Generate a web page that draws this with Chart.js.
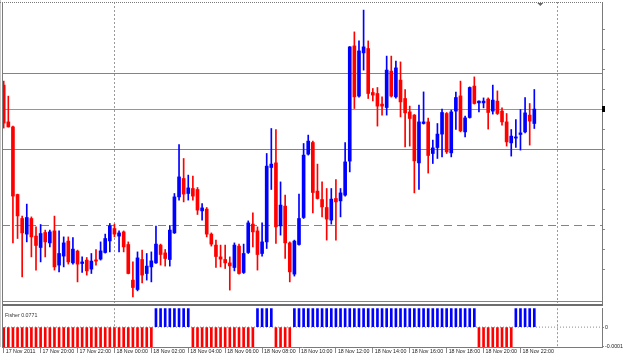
<!DOCTYPE html>
<html>
<head>
<meta charset="utf-8">
<script src="https://cdn.jsdelivr.net/npm/chart.js@4.4.0/dist/chart.umd.min.js"></script>
<style>
  html, body { margin: 0; padding: 0; background: #fff; }
  #wrap { position: relative; width: 625px; height: 358px; overflow: hidden; background: #fff; }
  canvas { position: absolute; left: 0; }
  #main { top: 0; }
  #sub { top: 304px; }
</style>
</head>
<body>
<div id="wrap">
  <canvas id="main" width="625" height="304"></canvas>
  <canvas id="sub" width="625" height="54"></canvas>
</div>
<script>
// M15 bars, 17 Nov 18:00 -> 18 Nov 22:45
const opens = [
  1.35122, 1.34938, 1.34913, 1.34575, 1.34455, 1.34377, 1.34455, 1.34367, 1.34310, 1.34385,
  1.34333, 1.34393, 1.34222, 1.34267, 1.34342, 1.34233, 1.34292, 1.34230, 1.34247, 1.34202,
  1.34248, 1.34252, 1.34285, 1.34343, 1.34405, 1.34367, 1.34388, 1.34325, 1.34147, 1.34100,
  1.34250, 1.34180, 1.34213, 1.34233, 1.34322, 1.34283, 1.34250, 1.34383, 1.34563, 1.34655,
  1.34580, 1.34605, 1.34600, 1.34493, 1.34502, 1.34377, 1.34322, 1.34263, 1.34250, 1.34233,
  1.34210, 1.34317, 1.34185, 1.34285, 1.34427, 1.34393, 1.34280, 1.34338, 1.34710, 1.34733,
  1.34418, 1.34517, 1.34333, 1.34177, 1.34325, 1.34460, 1.34777, 1.34835, 1.34592, 1.34550,
  1.34510, 1.34447, 1.34555, 1.34543, 1.34572, 1.34742, 1.35318, 1.35067, 1.35283, 1.35305,
  1.35085, 1.35080, 1.35027, 1.35010, 1.35192, 1.35063, 1.35147, 1.35055, 1.34988, 1.34972,
  1.34733, 1.34930, 1.34938, 1.34780, 1.34810, 1.34877, 1.34980, 1.34783, 1.34992, 1.35068,
  1.34888, 1.34960, 1.35117, 1.35033, 1.35033, 1.35052, 1.34992, 1.35042, 1.34992, 1.34938,
  1.34833, 1.34857, 1.34875, 1.34888, 1.34972, 1.34930
];
const highs = [
  1.35142, 1.35067, 1.34917, 1.34577, 1.34467, 1.34527, 1.34463, 1.34413, 1.34425, 1.34397,
  1.34397, 1.34467, 1.34393, 1.34363, 1.34363, 1.34360, 1.34297, 1.34263, 1.34260, 1.34280,
  1.34300, 1.34338, 1.34377, 1.34430, 1.34427, 1.34393, 1.34393, 1.34338, 1.34238, 1.34288,
  1.34297, 1.34280, 1.34288, 1.34417, 1.34327, 1.34300, 1.34420, 1.34580, 1.34825, 1.34755,
  1.34672, 1.34667, 1.34610, 1.34530, 1.34510, 1.34383, 1.34347, 1.34322, 1.34322, 1.34263,
  1.34333, 1.34327, 1.34327, 1.34443, 1.34483, 1.34413, 1.34433, 1.34780, 1.34905, 1.34900,
  1.34638, 1.34572, 1.34338, 1.34347, 1.34577, 1.34830, 1.34872, 1.34842, 1.34727, 1.34638,
  1.34605, 1.34605, 1.34650, 1.34605, 1.34835, 1.35315, 1.35388, 1.35343, 1.35497, 1.35343,
  1.35105, 1.35110, 1.35063, 1.35267, 1.35267, 1.35242, 1.35238, 1.35100, 1.35017, 1.34975,
  1.35022, 1.35088, 1.34957, 1.34847, 1.34930, 1.35002, 1.34985, 1.34997, 1.35087, 1.35142,
  1.34967, 1.35113, 1.35163, 1.35043, 1.35058, 1.35058, 1.35122, 1.35093, 1.35008, 1.34980,
  1.34900, 1.34950, 1.35000, 1.35060, 1.35030, 1.35100
];
const lows = [
  1.34907, 1.34912, 1.34333, 1.34355, 1.34163, 1.34338, 1.34263, 1.34197, 1.34238, 1.34263,
  1.34313, 1.34197, 1.34188, 1.34213, 1.34227, 1.34227, 1.34138, 1.34185, 1.34172, 1.34180,
  1.34222, 1.34247, 1.34282, 1.34288, 1.34363, 1.34288, 1.34288, 1.34178, 1.34063, 1.34093,
  1.34133, 1.34147, 1.34138, 1.34230, 1.34222, 1.34217, 1.34217, 1.34380, 1.34547, 1.34538,
  1.34547, 1.34547, 1.34475, 1.34447, 1.34363, 1.34317, 1.34210, 1.34213, 1.34205, 1.34097,
  1.34193, 1.34177, 1.34180, 1.34280, 1.34313, 1.34197, 1.34267, 1.34305, 1.34600, 1.34330,
  1.34372, 1.34255, 1.34138, 1.34167, 1.34322, 1.34455, 1.34772, 1.34483, 1.34552, 1.34463,
  1.34347, 1.34427, 1.34347, 1.34463, 1.34567, 1.34688, 1.35005, 1.35062, 1.35197, 1.35055,
  1.35043, 1.34917, 1.34972, 1.34972, 1.35062, 1.35057, 1.34963, 1.34813, 1.34817, 1.34583,
  1.34600, 1.34927, 1.34682, 1.34730, 1.34755, 1.34763, 1.34780, 1.34763, 1.34900, 1.34888,
  1.34863, 1.34957, 1.35027, 1.34988, 1.35008, 1.34902, 1.34977, 1.34975, 1.34922, 1.34817,
  1.34767, 1.34810, 1.34797, 1.34883, 1.34822, 1.34905
];
const closes = [
  1.34932, 1.34913, 1.34567, 1.34468, 1.34383, 1.34460, 1.34363, 1.34320, 1.34380, 1.34338,
  1.34388, 1.34213, 1.34280, 1.34333, 1.34238, 1.34302, 1.34227, 1.34238, 1.34193, 1.34242,
  1.34242, 1.34293, 1.34355, 1.34418, 1.34377, 1.34383, 1.34313, 1.34180, 1.34110, 1.34258,
  1.34172, 1.34217, 1.34243, 1.34327, 1.34275, 1.34255, 1.34397, 1.34563, 1.34663, 1.34577,
  1.34608, 1.34567, 1.34497, 1.34508, 1.34377, 1.34327, 1.34265, 1.34252, 1.34233, 1.34218,
  1.34322, 1.34180, 1.34280, 1.34433, 1.34388, 1.34275, 1.34338, 1.34717, 1.34727, 1.34413,
  1.34522, 1.34333, 1.34188, 1.34342, 1.34455, 1.34772, 1.34842, 1.34585, 1.34555, 1.34513,
  1.34452, 1.34552, 1.34538, 1.34583, 1.34738, 1.35313, 1.35063, 1.35293, 1.35313, 1.35080,
  1.35072, 1.35017, 1.35017, 1.35197, 1.35067, 1.35208, 1.35038, 1.34983, 1.34955, 1.34743,
  1.34938, 1.34938, 1.34770, 1.34808, 1.34877, 1.34985, 1.34788, 1.34988, 1.35060, 1.34893,
  1.34958, 1.35110, 1.35030, 1.35042, 1.35042, 1.34985, 1.35047, 1.34980, 1.34938, 1.34838,
  1.34867, 1.34863, 1.34883, 1.34983, 1.34942, 1.35002
];

// Fisher histogram (the subwindow scale clips every bar)
const fisher = [
  -1.52, -1.68, -1.85, -2.01, -2.12, -2.05, -1.98, -1.93, -1.87, -1.80,
  -1.74, -1.76, -1.71, -1.62, -1.58, -1.53, -1.55, -1.49, -1.46, -1.38,
  -1.27, -1.13, -0.98, -0.84, -0.77, -0.71, -0.69, -0.74, -0.81, -0.63,
  -0.55, -0.41, -0.22, 0.08, 0.29, 0.41, 0.56, 0.78, 1.02, 1.11,
  1.05, -0.03, -0.21, -0.39, -0.58, -0.77, -0.93, -1.08, -1.19, -1.14,
  -1.02, -0.91, -0.72, -0.49, -0.26, 0.05, 0.18, 0.47, 0.66, -0.04,
  -0.12, -0.23, -0.15, 0.06, 0.21, 0.48, 0.79, 0.92, 0.97, 0.95,
  0.91, 0.88, 0.87, 0.95, 1.21, 1.48, 1.72, 1.95, 2.03, 1.96,
  1.88, 1.79, 1.74, 1.81, 1.83, 1.86, 1.77, 1.63, 1.44, 1.28,
  1.09, 0.96, 0.84, 0.71, 0.66, 0.63, 0.61, 0.58, 0.62, 0.57,
  0.49, 0.38, 0.21, -0.02, -0.09, -0.14, -0.19, -0.26, -0.33, -0.38,
  -0.29, 0.03, 0.06, 0.04, 0.07, 0.0771
];

const tickLabels = [
  "17 Nov 2011", "17 Nov 20:00", "17 Nov 22:00", "18 Nov 00:00", "18 Nov 02:00",
  "18 Nov 04:00", "18 Nov 06:00", "18 Nov 08:00", "18 Nov 10:00", "18 Nov 12:00",
  "18 Nov 14:00", "18 Nov 16:00", "18 Nov 18:00", "18 Nov 20:00", "18 Nov 22:00"
];
const barsPerLabel = 8;

// horizontal levels drawn on the price window
const levels = [1.3518, 1.3500, 1.3480, 1.3442, 1.3404];
const levelColors = ["rgb(232,90,90)", "rgb(150,150,150)", "rgb(232,90,90)", "rgb(232,90,90)", "rgb(232,90,90)"];
const levelDashed = [false, false, false, true, false];

// period separators (bar index of 18 Nov 00:00 and 19 Nov 00:00)
const daySeparators = [24, 120];

const BULL = "#0000ff";
const BEAR = "#ff0000";
const X_MIN = -0.37;
const X_MAX = 129.67;
const FONT = { family: "'Liberation Sans', Arial, sans-serif", size: 5.3 };

const candleColors = opens.map((o, i) => (closes[i] >= o ? BULL : BEAR));

const separatorPlugin = {
    id: "separators",
    beforeDatasetsDraw(chart) {
        const { ctx, chartArea, scales } = chart;
        ctx.save();
        ctx.strokeStyle = "#9a9a9a";
        ctx.lineWidth = 1;
        ctx.setLineDash([2, 2]);
        daySeparators.forEach((d) => {
            const x = Math.floor(scales.x.getPixelForValue(d)) + 0.5;
            ctx.beginPath();
            ctx.moveTo(x, chartArea.top);
            ctx.lineTo(x, chartArea.bottom);
            ctx.stroke();
        });
        ctx.restore();
    },
};

const mainFrame = {
    id: "mainFrame",
    afterDraw(chart) {
        const { ctx, chartArea, scales } = chart;
        ctx.save();
        ctx.lineWidth = 1;
        ctx.strokeStyle = "#c8c8c8";
        ctx.beginPath();
        ctx.moveTo(0.5, 0);
        ctx.lineTo(0.5, 304);
        ctx.stroke();
        ctx.strokeStyle = "#7a7a7a";
        ctx.beginPath();
        ctx.moveTo(chartArea.left + 0.5, chartArea.top);
        ctx.lineTo(chartArea.left + 0.5, 304);
        ctx.stroke();
        ctx.setLineDash([1, 1]);
        ctx.beginPath();
        ctx.moveTo(0, chartArea.top + 0.5);
        ctx.lineTo(chartArea.right, chartArea.top + 0.5);
        ctx.stroke();
        ctx.setLineDash([]);
        // price marker of the last close on the axis
        const y = scales.y.getPixelForValue(closes[closes.length - 1]);
        ctx.fillStyle = "#000";
        ctx.fillRect(chartArea.right, Math.round(y) - 3, 3, 6);
        // chart shift marker
        const sx = scales.x.getPixelForValue(opens.length + 0.3);
        ctx.fillStyle = "#666";
        ctx.beginPath();
        ctx.moveTo(sx - 3, chartArea.top + 1);
        ctx.lineTo(sx + 3, chartArea.top + 1);
        ctx.lineTo(sx, chartArea.top + 4);
        ctx.closePath();
        ctx.fill();
        ctx.restore();
    },
};

const subFrame = {
    id: "subFrame",
    afterDraw(chart) {
        const { ctx, chartArea } = chart;
        ctx.save();
        ctx.fillStyle = "#6e6e6e";
        ctx.fillRect(chartArea.left, 0, chartArea.right - chartArea.left + 1, 2);
        ctx.lineWidth = 1;
        ctx.strokeStyle = "#c8c8c8";
        ctx.beginPath();
        ctx.moveTo(0.5, 0);
        ctx.lineTo(0.5, chartArea.bottom);
        ctx.stroke();
        ctx.strokeStyle = "#7a7a7a";
        ctx.beginPath();
        ctx.moveTo(chartArea.left + 0.5, 0);
        ctx.lineTo(chartArea.left + 0.5, chartArea.bottom);
        ctx.stroke();
        ctx.fillStyle = "#333";
        ctx.font = FONT.size + "px " + FONT.family;
        ctx.textBaseline = "middle";
        ctx.fillText("Fisher " + fisher[fisher.length - 1], chartArea.left + 3, chartArea.top + 7);
        ctx.restore();
    },
};

const levelSets = levels.map((lv, k) => ({
    type: "line",
    label: "level " + lv,
    data: [{ x: X_MIN, y: lv }, { x: X_MAX, y: lv }],
    borderColor: levelColors[k],
    backgroundColor: levelColors[k],
    borderWidth: 1,
    borderDash: levelDashed[k] ? [8, 5] : [],
    pointRadius: 0,
    fill: false,
    order: 5,
}));

new Chart(document.getElementById("main"), {
    type: "bar",
    data: {
        datasets: [
            ...levelSets,
            {
                label: "wicks",
                data: lows.map((l, i) => ({ x: i, y: [l, highs[i]] })),
                backgroundColor: candleColors,
                barThickness: 1,
                grouped: false,
                order: 1,
            },
            {
                label: "bodies",
                data: opens.map((o, i) => ({ x: i, y: [o, closes[i]] })),
                backgroundColor: candleColors,
                barThickness: 3,
                minBarLength: 1,
                grouped: false,
                order: 0,
            },
        ],
    },
    options: {
        responsive: false,
        animation: false,
        events: [],
        layout: { padding: { left: 2, top: 2, right: 0, bottom: 1 } },
        plugins: { legend: { display: false }, tooltip: { enabled: false } },
        scales: {
            x: { type: "linear", min: X_MIN, max: X_MAX, offset: false, display: false },
            y: {
                position: "right",
                min: 1.340325,
                max: 1.355375,
                ticks: { display: false, stepSize: 0.001 },
                grid: { drawOnChartArea: false, tickLength: 3, color: "#8a8a8a" },
                border: { color: "#7a7a7a" },
                afterBuildTicks: (scale) => {
                    scale.ticks = scale.ticks.filter((t) => Math.abs(t.value * 1000 - Math.round(t.value * 1000)) < 1e-6);
                },
                afterFit: (scale) => { scale.width = 23; },
            },
        },
    },
    plugins: [separatorPlugin, mainFrame],
});

new Chart(document.getElementById("sub"), {
    type: "bar",
    data: {
        datasets: [
            {
                type: "line",
                label: "level 0",
                data: [{ x: X_MIN, y: 0 }, { x: X_MAX, y: 0 }],
                borderColor: "#8a8a8a",
                borderWidth: 1,
                borderDash: [1, 2],
                pointRadius: 0,
                order: 5,
            },
            {
                label: "Fisher",
                data: fisher.map((v, i) => ({ x: i, y: v })),
                backgroundColor: fisher.map((v) => (v > 0 ? BULL : BEAR)),
                barThickness: 2,
                grouped: false,
                order: 0,
            },
        ],
    },
    options: {
        responsive: false,
        animation: false,
        events: [],
        layout: { padding: { left: 2, top: 2, right: 0, bottom: 0 } },
        plugins: { legend: { display: false }, tooltip: { enabled: false } },
        scales: {
            x: {
                type: "linear",
                min: X_MIN,
                max: X_MAX,
                offset: false,
                grid: { drawOnChartArea: false, offset: false, tickLength: 6, color: "#8a8a8a" },
                border: { color: "#7a7a7a" },
                ticks: {
                    align: "start",
                    labelOffset: 2,
                    padding: -5,
                    maxRotation: 0,
                    autoSkip: false,
                    font: FONT,
                    color: "#222",
                    callback: (v) => tickLabels[v / barsPerLabel],
                },
                afterBuildTicks: (scale) => {
                    scale.ticks = tickLabels.map((_, k) => ({ value: k * barsPerLabel }));
                },
                afterFit: (scale) => { scale.height = 11; },
            },
            y: {
                position: "right",
                min: -0.000105,
                max: 0.0001,
                ticks: { font: FONT, color: "#222", padding: 1, callback: (v) => (v === 0 ? "0" : v.toFixed(4)) },
                grid: { drawOnChartArea: false, tickLength: 2, color: "#8a8a8a" },
                border: { color: "#7a7a7a" },
                afterBuildTicks: (scale) => {
                    scale.ticks = [{ value: 0 }, { value: -0.0001 }];
                },
                afterFit: (scale) => { scale.width = 23; },
            },
        },
    },
    plugins: [separatorPlugin, subFrame],
});
</script>
</body>
</html>
